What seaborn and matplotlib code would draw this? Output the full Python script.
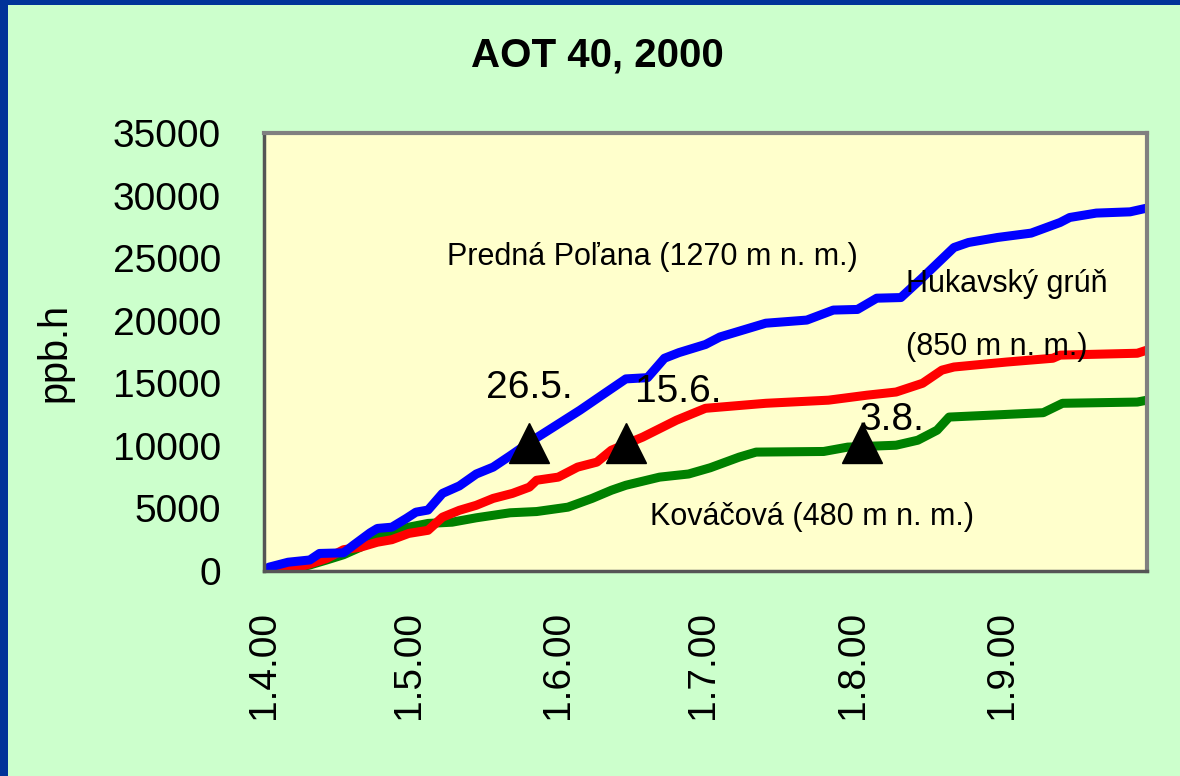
import pandas as pd
import matplotlib.pyplot as plt
import seaborn as sns
from matplotlib.patches import Rectangle

# data (days counted from 1.4.2000, cumulative AOT40 in ppb.h)
start = pd.Timestamp('2000-04-01')

polana_days = [0, 1, 5, 9.5, 11.5, 16.5, 18.5, 22, 23.5, 26.5, 29.5, 31.5, 34, 37, 40.5, 44, 47.5, 51,
               55.5, 60, 65.5, 71, 75, 79.5, 83, 86, 91.5, 94.5, 104, 112.5, 118, 123, 127, 132,
               136.5, 143, 146, 152, 159, 165, 167, 172.5, 179.5, 183]
polana_vals = [0, 300, 700, 880, 1400, 1450, 2050, 3050, 3400, 3500, 4200, 4700, 4870, 6200, 6800, 7750,
               8300, 9200, 10400, 11500, 12850, 14300, 15350, 15450, 17000, 17450, 18100, 18700, 19800,
               20050, 20850, 20900, 21800, 21850, 23450, 25850, 26250, 26650, 27000, 27850, 28250,
               28600, 28700, 29000]

hukavsky_days = [3, 5, 9, 13, 16.5, 20, 23.5, 26.5, 30, 34, 37, 40.5, 44, 47.5, 51.5, 55, 56.5, 61, 65,
                 69, 72, 78.5, 85.5, 91.5, 104, 117, 125, 131, 136.5, 140.5, 143, 154, 163.5, 165,
                 181, 183]
hukavsky_vals = [0, 100, 500, 1000, 1700, 1900, 2300, 2500, 3000, 3250, 4300, 4850, 5250, 5800, 6200,
                 6700, 7250, 7500, 8300, 8700, 9650, 10700, 12050, 13000, 13400, 13650, 14050, 14300,
                 15000, 16050, 16300, 16700, 17000, 17250, 17400, 17650]

kovacova_days = [3, 5.5, 9.5, 13, 16.5, 20, 23.5, 30, 34, 39, 44, 51, 56.5, 63, 68, 72, 75, 82, 88,
                 92.5, 98.5, 102, 116, 121, 131, 135.5, 139.5, 142, 150.5, 161.5, 165.5, 181, 183]
kovacova_vals = [0, 100, 480, 880, 1300, 1900, 2750, 3500, 3800, 3900, 4250, 4650, 4750, 5100, 5800,
                 6450, 6850, 7500, 7750, 8250, 9100, 9500, 9550, 9900, 10050, 10450, 11250, 12300,
                 12450, 12650, 13400, 13500, 13650]

marker_dates = ['2000-05-26', '2000-06-15', '2000-08-03']
marker_labels = ['26.5.', '15.6.', '3.8.']
marker_level = 10200

tick_dates = ['2000-04-01', '2000-05-01', '2000-06-01', '2000-07-01', '2000-08-01', '2000-09-01', '2000-10-01']
tick_labels = ['1.4.00', '1.5.00', '1.6.00', '1.7.00', '1.8.00', '1.9.00', '']

frames = []
for name, days, vals in [('Kováčová', kovacova_days, kovacova_vals),
                         ('Hukavský grúň', hukavsky_days, hukavsky_vals),
                         ('Predná Poľana', polana_days, polana_vals)]:
    frames.append(pd.DataFrame({'date': start + pd.to_timedelta(days, unit='D'),
                                'ppb': vals, 'station': name}))
df = pd.concat(frames, ignore_index=True)

sns.set_style('white')
plt.rcParams['font.family'] = ['Liberation Sans', 'DejaVu Sans']
plt.rcParams['text.color'] = 'black'
plt.rcParams['axes.labelcolor'] = 'black'
plt.rcParams['xtick.color'] = 'black'
plt.rcParams['ytick.color'] = 'black'

fig = plt.figure(figsize=(11.8, 7.76), dpi=100, facecolor='#CCFFCC')
ax = fig.add_axes([0.2237, 0.2642, 0.7483, 0.5644])
ax.set_facecolor('#FFFFCC')

palette = {'Kováčová': '#008000', 'Hukavský grúň': '#FF0000', 'Predná Poľana': '#0000FF'}
sns.lineplot(data=df, x='date', y='ppb', hue='station', palette=palette, estimator=None,
             sort=False, linewidth=6.5, legend=False, ax=ax)

# event markers
ax.plot(pd.to_datetime(marker_dates), [marker_level] * 3, linestyle='none', marker='^',
        markersize=29, color='black', zorder=5)

ax.text(pd.Timestamp('2000-05-17'), 13820, marker_labels[0], fontsize=28, va='baseline')
ax.text(pd.Timestamp('2000-06-17'), 13500, marker_labels[1], fontsize=28, va='baseline')
ax.text(pd.Timestamp('2000-08-02 12:00'), 11270, marker_labels[2], fontsize=28, va='baseline')

# station labels
ax.text(pd.Timestamp('2000-05-09'), 24450, 'Predná Poľana (1270 m n. m.)', fontsize=22, va='baseline')
ax.text(pd.Timestamp('2000-08-12'), 22300, 'Hukavský grúň', fontsize=22, va='baseline')
ax.text(pd.Timestamp('2000-08-12'), 17260, '(850 m n. m.)', fontsize=22, va='baseline')
ax.text(pd.Timestamp('2000-06-20'), 3680, 'Kováčová (480 m n. m.)', fontsize=22, va='baseline')

ax.set_xlim(pd.Timestamp('2000-04-01'), pd.Timestamp('2000-10-01'))
ax.set_ylim(0, 35000)
ax.set_yticks(range(0, 35001, 5000))
ax.set_xticks(pd.to_datetime(tick_dates))
ax.set_xticklabels(tick_labels, rotation=90)
ax.tick_params(axis='both', labelsize=28, length=12, width=1.2, color='#404040',
               labelcolor='black', direction='out')
ax.tick_params(axis='x', pad=16.5)
ax.tick_params(axis='y', pad=19)
ax.set_xlabel('')
ax.set_ylabel('ppb.h', fontsize=28.5, labelpad=28)

for side in ['top', 'right']:
    ax.spines[side].set_color('#808080')
    ax.spines[side].set_linewidth(3)
for side in ['left', 'bottom']:
    ax.spines[side].set_color('#555555')
    ax.spines[side].set_linewidth(2.5)

fig.text(0.506, 0.9137, 'AOT 40, 2000', fontsize=29, fontweight='bold',
         ha='center', va='baseline')

# dark blue frame edges
fig.patches.append(Rectangle((0, 0), 8 / 1180, 1, transform=fig.transFigure,
                             facecolor='#003399', edgecolor='none'))
fig.patches.append(Rectangle((0, 1 - 5 / 776), 1, 5 / 776, transform=fig.transFigure,
                             facecolor='#003399', edgecolor='none'))

plt.savefig('out.png', dpi=100, facecolor=fig.get_facecolor())
